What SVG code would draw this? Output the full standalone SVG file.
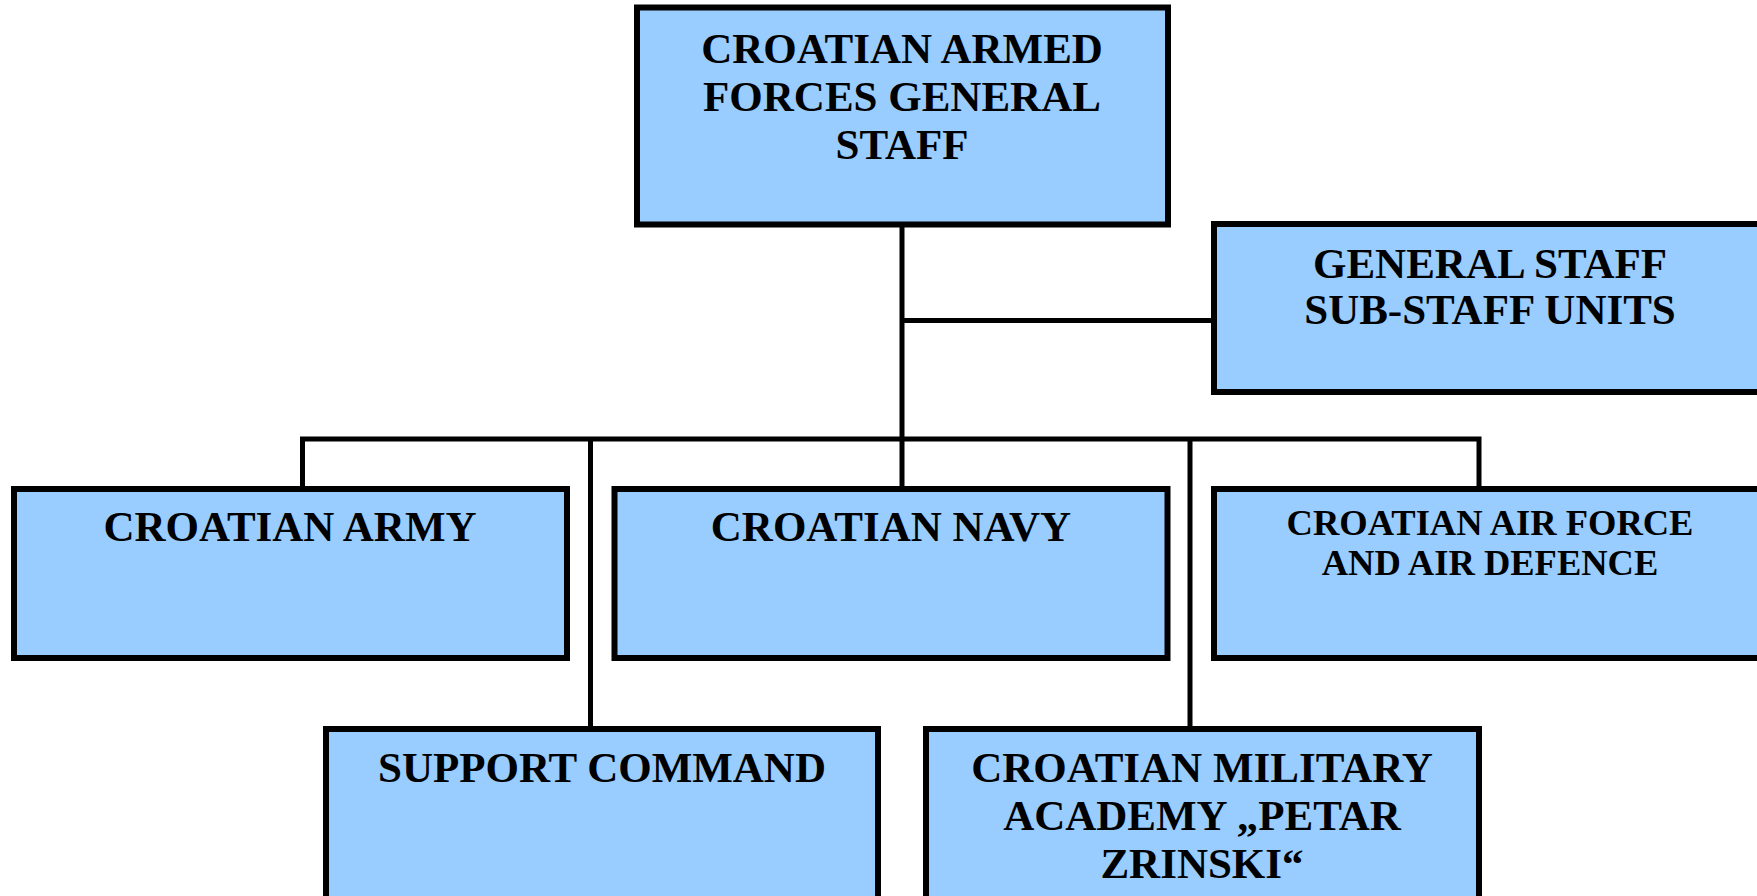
<svg xmlns="http://www.w3.org/2000/svg" width="1757" height="896" viewBox="0 0 1757 896">
<style>
.box{fill:#99CCFF;stroke:#000;stroke-width:6}
.t{font-family:"Liberation Serif","Times New Roman",serif;font-weight:bold;font-size:43px;fill:#000;text-anchor:middle}
.s{font-size:36.5px}
.c{stroke:#000;stroke-width:5;fill:none}
</style>
<rect width="1757" height="896" fill="#fff"/>
<g id="connectors">
<line class="c" x1="902" y1="224" x2="902" y2="489"/>
<line class="c" x1="902" y1="320.5" x2="1214" y2="320.5"/>
<polyline class="c" points="302.5,489 302.5,439 1479,439 1479,489"/>
<line class="c" x1="590.5" y1="439" x2="590.5" y2="728"/>
<line class="c" x1="1190" y1="439" x2="1190" y2="728"/>
</g>
<g id="general-staff">
<rect class="box" x="637" y="7.5" width="531" height="217"/>
<text class="t" x="902" y="63">CROATIAN ARMED</text>
<text class="t" x="902" y="111">FORCES GENERAL</text>
<text class="t" x="902" y="159">STAFF</text>
</g>
<g id="sub-staff">
<rect class="box" x="1214" y="224" width="560" height="168"/>
<text class="t" x="1490" y="278">GENERAL STAFF</text>
<text class="t" x="1490" y="324">SUB-STAFF UNITS</text>
</g>
<g id="army">
<rect class="box" x="14" y="489" width="553" height="169"/>
<text class="t" x="290" y="541">CROATIAN ARMY</text>
</g>
<g id="navy">
<rect class="box" x="614.5" y="489" width="553" height="169"/>
<text class="t" x="891" y="541">CROATIAN NAVY</text>
</g>
<g id="air-force">
<rect class="box" x="1214" y="489" width="560" height="169"/>
<text class="t s" x="1490" y="535">CROATIAN AIR FORCE</text>
<text class="t s" x="1490" y="575">AND AIR DEFENCE</text>
</g>
<g id="support">
<rect class="box" x="326" y="729" width="552" height="190"/>
<text class="t" x="602" y="782">SUPPORT COMMAND</text>
</g>
<g id="academy">
<rect class="box" x="926" y="729" width="553" height="190"/>
<text class="t" x="1202" y="782">CROATIAN MILITARY</text>
<text class="t" x="1202" y="830">ACADEMY „PETAR</text>
<text class="t" x="1202" y="878">ZRINSKI“</text>
</g>
</svg>
